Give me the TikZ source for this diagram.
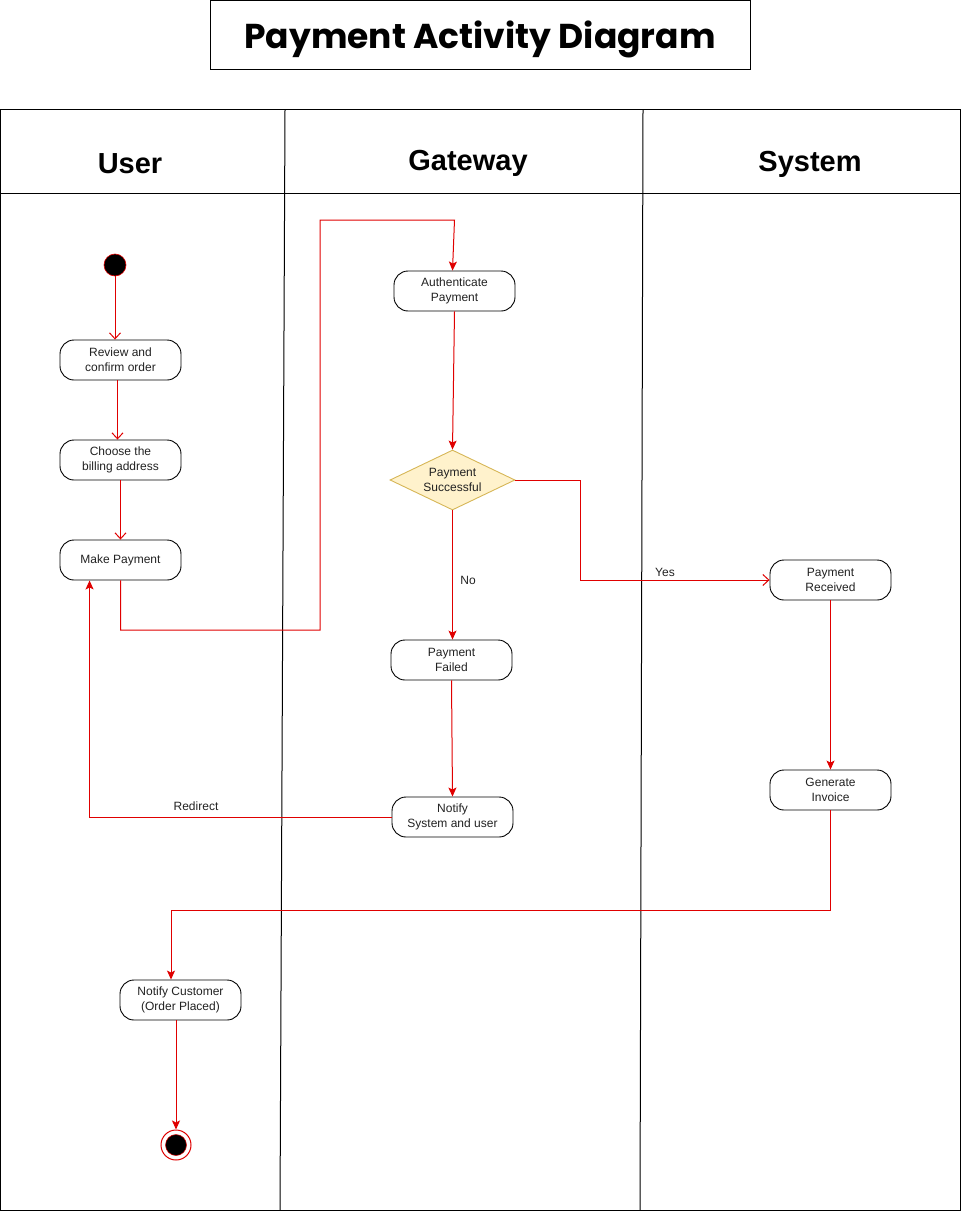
\documentclass[tikz,border=0pt]{standalone}
\usepackage{fontspec}
\setmainfont{Liberation Sans}
\newfontfamily\titlefont{Poppins}
\usetikzlibrary{arrows.meta,shapes.geometric,calc}
\definecolor{flowred}{HTML}{E00000}
\definecolor{dfill}{HTML}{FFF2CC}
\definecolor{dline}{HTML}{D6B656}
\definecolor{txt}{HTML}{222222}
\tikzset{
  act/.style={draw=black, line width=0.9pt, rounded corners=14pt, fill=white,
    minimum width=121pt, minimum height=40pt, inner sep=0pt, align=center,
    text=txt, font=\fontsize{12}{15}\selectfont},
  dec/.style={diamond, draw=dline, fill=dfill, line width=0.9pt, aspect=2.08,
    minimum width=125pt, minimum height=60pt, inner sep=0pt, align=center,
    text=txt, font=\fontsize{12}{15}\selectfont},
  flowopen/.style={draw=flowred, line width=1pt, -{Straight Barb[length=6pt,width=11pt]}},
  flowfill/.style={draw=flowred, line width=1pt, -{Stealth[length=9pt,width=8pt,inset=2pt]}},
  lbl/.style={text=txt, font=\fontsize{12}{15}\selectfont, inner sep=0pt},
  lanehead/.style={font=\fontsize{29}{34}\selectfont\bfseries, text=black},
  lane/.style={draw=black, line width=1pt},
}
\begin{document}
\begin{tikzpicture}[x=1pt,y=-1pt]
\useasboundingbox (0,0) rectangle (961,1212);
% title
\draw[draw=black, line width=1pt] (210.5,0.5) rectangle (750,70);
\node[inner sep=0pt, font=\titlefont\fontsize{34.5}{40}\selectfont\bfseries] (title) at (480,39) {Payment Activity Diagram};
% swimlanes
\draw[lane] (0.5,110) rectangle (960,1210);
\draw[lane] (0.5,193) -- (960,193);
\draw[lane] (285,110) -- (280,1210);
\draw[lane] (643,110) -- (640,1210);
\node[lanehead] (huser) at (130,164) {User};
\node[lanehead] (hgate) at (468,163) {Gateway};
\node[lanehead] (hsys) at (810,164) {System};
% nodes
\node[circle, fill=black, draw=flowred, line width=0.6pt, minimum size=22pt, inner sep=0pt] (start) at (115,265) {};
\node[act] (rev) at (120.5,360) {Review and\\confirm order};
\node[act] (bill) at (120.5,460) {Choose the\\billing address};
\node[act] (mp) at (120.5,560) {Make Payment};
\node[act] (auth) at (454.5,291) {Authenticate\\Payment};
\node[dec] (dia) at (452.5,480) {Payment\\Successful};
\node[act] (fail) at (451.5,660) {Payment\\Failed};
\node[act] (notify) at (452.5,817) {Notify\\System and user};
\node[act] (prec) at (830.5,580) {Payment\\Received};
\node[act] (inv) at (830.5,790) {Generate\\Invoice};
\node[act] (nc) at (180.5,1000) {Notify Customer\\(Order Placed)};
\node[circle, draw=flowred, fill=white, line width=1pt, minimum size=30pt, inner sep=0pt] (end) at (176,1145) {};
\node[circle, fill=black, draw=flowred, line width=0.5pt, minimum size=21pt, inner sep=0pt] (endin) at (176,1145) {};
% connectors
\draw[flowopen] (start) -- (start.south |- rev.north);
\draw[flowopen] ([xshift=-3pt]rev.south) -- ([xshift=-3pt]bill.north);
\draw[flowopen] (bill) -- (mp);
\draw[flowfill] (mp.south) -- (mp.south |- 0,630) -- (320,630) -- (320,220) -- (auth.north |- 0,220) -- ([xshift=-2pt]auth.north);
\draw[flowfill] (auth.south) -- (dia.north);
\draw[flowopen] (dia.east) -- (580,480) |- (prec.west);
\node[lbl] (yes) at (665,572) {Yes};
\draw[flowfill] (dia.south) -- (dia.south |- fail.north);
\node[lbl] (no) at (468,580) {No};
\draw[flowfill] (fail.south) -- (notify.north);
\draw[flowfill] (notify.west) -| ([xshift=30pt]mp.south west);
\node[lbl] (redir) at (196,806) {Redirect};
\draw[flowfill] (prec.south) -- (inv.north);
\draw[flowfill] (inv.south) -- (inv.south |- 0,910) -| ([xshift=-9.5pt]nc.north);
\draw[flowfill] (nc.south -| end) -- (end.north);
\end{tikzpicture}
\end{document}
